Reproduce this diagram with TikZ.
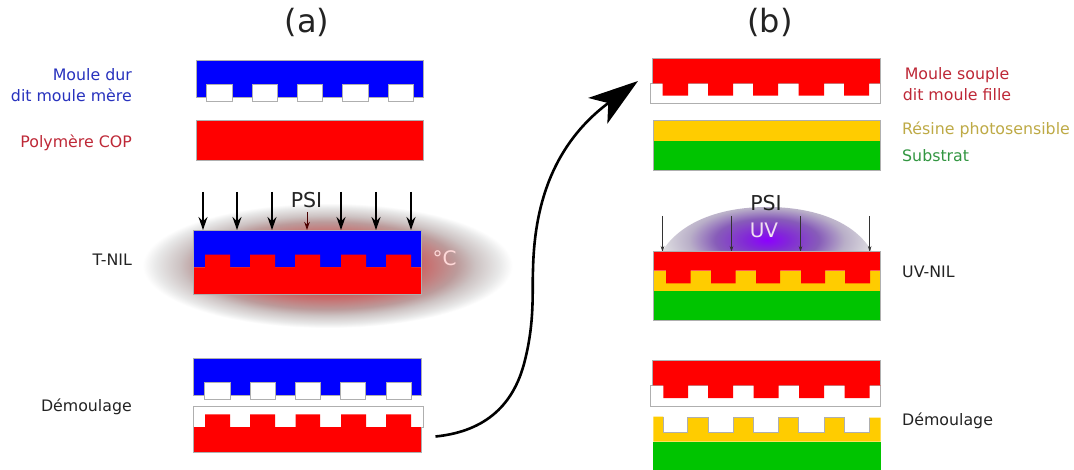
\documentclass[tikz,border=0pt]{standalone}
\usepackage{fontspec}
\setmainfont{DejaVu Sans}
\usetikzlibrary{arrows.meta,calc}
\definecolor{cblue}{RGB}{0,0,255}
\definecolor{cred}{RGB}{255,0,0}
\definecolor{cyel}{RGB}{255,204,0}
\definecolor{cgrn}{RGB}{0,196,0}
\definecolor{edgegray}{RGB}{175,175,175}
\definecolor{tblue}{RGB}{40,50,190}
\definecolor{tred}{RGB}{190,40,55}
\definecolor{tolive}{RGB}{190,170,70}
\definecolor{tgreen}{RGB}{50,150,65}
\definecolor{tdark}{RGB}{35,35,35}
\definecolor{ha}{RGB}{215,40,40}
\definecolor{hb}{RGB}{212,60,60}
\definecolor{hc}{RGB}{200,108,108}
\definecolor{hd}{RGB}{188,155,155}
\definecolor{he}{RGB}{205,195,195}
\definecolor{hf}{RGB}{232,232,232}
\definecolor{ua}{RGB}{140,0,255}
\definecolor{ub}{RGB}{130,40,215}
\definecolor{uc}{RGB}{135,92,185}
\definecolor{ud}{RGB}{185,175,200}
\definecolor{ue}{RGB}{225,225,227}
\pgfdeclareradialshading{heatglow}{\pgfpointorigin}{%
 color(0bp)=(ha);
 color(7.5bp)=(hb);
 color(13bp)=(hc);
 color(17.5bp)=(hd);
 color(20bp)=(he);
 color(23.2bp)=(hf);
 color(25bp)=(white);
 color(50bp)=(white)}
\pgfdeclareradialshading{uvglow}{\pgfpointorigin}{%
 color(0bp)=(ua);
 color(5bp)=(ub);
 color(12bp)=(uc);
 color(18bp)=(ud);
 color(25bp)=(ue);
 color(50bp)=(ue)}
\tikzset{
 part/.style={line width=.5pt,draw=edgegray},
 hollow/.style={part,fill=white},
 press/.style={-{Stealth[length=13pt,width=9pt]},line width=1.4pt,draw=black},
 pressmini/.style={-{Stealth[length=8pt,width=5.5pt]},line width=.9pt,draw=black!70!red},
 pressuv/.style={-{Stealth[length=6pt,width=3.5pt]},line width=.6pt,draw=black!80},
 lab/.style={inner sep=0pt,font=\fontsize{15.8}{20.5}\selectfont,align=center},
 labr/.style={lab,anchor=east,align=right},
 labl/.style={lab,anchor=west,align=left},
 bigtitle/.style={inner sep=0pt,font=\fontsize{32}{38}\selectfont,text=tdark},
 psi/.style={inner sep=0pt,font=\fontsize{20.5}{24}\selectfont,text=tdark}
}
\begin{document}
\begin{tikzpicture}[x=1pt,y=-1pt]
\useasboundingbox (0,0) rectangle (1074,470);
\fill[white] (0,0) rectangle (1074,470);

% titles
\node[bigtitle] (ta) at (307,22) {(a)};
\node[bigtitle] (tb) at (770,22) {(b)};

% ---- panel (a) row 1: hard mould
\draw[part,fill=cblue] (196,60) rectangle (423,97);
\foreach \x/\y in {206.5/232,252/277.5,297/322.5,342.5/368,388/413}
  \draw[hollow] (\x,84) rectangle (\y,101);
\node[labr,text=tblue] (la1) at (132,85) {Moule dur\\dit moule mère};

% polymer
\draw[part,fill=cred] (196,120.5) rectangle (423,160);
\node[labr,text=tred] (la2) at (132,143) {Polymère COP};

% ---- T-NIL
\shade[shading=heatglow] (327.5,265.5) ellipse [x radius=185,y radius=62.5];
\fill[cblue] (193.5,230) rectangle (421,267.3);
\fill[cred] (193.5,294.7) -- (193.5,267.3) -- (205,267.3) -- (205,254.7) -- (230,254.7) -- (230,267.3)
  -- (250,267.3) -- (250,254.7) -- (275,254.7) -- (275,267.3)
  -- (295,267.3) -- (295,254.7) -- (320,254.7) -- (320,267.3)
  -- (341,267.3) -- (341,254.7) -- (366,254.7) -- (366,267.3)
  -- (386,267.3) -- (386,254.7) -- (411,254.7) -- (411,267.3)
  -- (421,267.3) -- (421,294.7) -- cycle;
\draw[part] (193.5,230) rectangle (421,294.7);
\foreach \n/\x in {1/203,2/237,3/272,5/341,6/376,7/411}{
  \coordinate (pa\n) at (\x,192);
  \coordinate (pb\n) at (\x,230);
  \draw[press] (pa\n) -- (pb\n);
}
\coordinate (pa4) at (307,212);
\coordinate (pb4) at (307,230);
\draw[pressmini] (pa4) -- (pb4);
\node[psi] (psia) at (306.5,200.5) {PSI};
\node[inner sep=0pt,font=\fontsize{20}{24}\selectfont,text=white!85!red] (deg) at (444.5,258) {°C};
\node[labr,text=tdark] (la3) at (132,260) {T-NIL};

% ---- démoulage (a)
\draw[part,fill=cblue] (193.3,358.3) rectangle (421,395);
\foreach \x/\y in {204.3/230,250/275,295/320,340.5/365.5,386/411}
  \draw[hollow] (\x,382) rectangle (\y,399.5);
\draw[hollow] (193.3,406) rectangle (423.7,427.7);
\fill[cred] (193.3,452) -- (193.3,427) -- (205,427) -- (205,414.3) -- (230,414.3) -- (230,427)
  -- (250,427) -- (250,414.3) -- (275,414.3) -- (275,427)
  -- (295.5,427) -- (295.5,414.3) -- (320,414.3) -- (320,427)
  -- (341,427) -- (341,414.3) -- (366,414.3) -- (366,427)
  -- (386,427) -- (386,414.3) -- (411,414.3) -- (411,427)
  -- (421,427) -- (421,452) -- cycle;
\draw[part] (193.3,427) -- (193.3,452) -- (421,452) -- (421,427);
\node[labr,text=tdark] (la4) at (132,406.5) {Démoulage};

% ---- big arrow
\coordinate (cs) at (435.5,436.5);
\coordinate (ce) at (638,81);
\draw[line width=2.6pt,-{Stealth[length=50pt,width=32pt,inset=13pt]}]
  (cs) .. controls (480,432) and (513,410) .. (525,360)
  .. controls (535,320) and (532,290) .. (533,270)
  .. controls (534,220) and (545,150) .. (ce);

% ---- panel (b) row 1
\draw[hollow] (650,83.3) rectangle (880,103.3);
\fill[cred] (652.7,58.3) -- (880,58.3) -- (880,83.3) -- (869,83.3) -- (869,95.7) -- (844,95.7) -- (844,83.3)
  -- (824,83.3) -- (824,95.7) -- (798.5,95.7) -- (798.5,83.3)
  -- (778,83.3) -- (778,95.7) -- (753,95.7) -- (753,83.3)
  -- (733,83.3) -- (733,95.7) -- (708,95.7) -- (708,83.3)
  -- (688,83.3) -- (688,95.7) -- (662.7,95.7) -- (662.7,83.3)
  -- (652.7,83.3) -- cycle;
\draw[part] (652.7,83.3) -- (652.7,58.3) -- (880,58.3) -- (880,83.3);
\node[lab,text=tred] (lb1) at (957,84) {Moule souple\\dit moule fille};

% resin + substrate
\fill[cyel] (653.3,120) rectangle (880.5,141);
\fill[cgrn] (653.3,141) rectangle (880.5,170);
\draw[part] (653.3,120) rectangle (880.5,170);
\node[labl,text=tolive] (lb2) at (902,130) {Résine photosensible};
\node[labl,text=tgreen] (lb3) at (902,156) {Substrat};

% ---- UV-NIL
\begin{scope}
\clip (662,251.7) .. controls (680,222) and (720,207) .. (767,207) .. controls (815,207) and (855,222) .. (872,251.7) -- cycle;
\shade[shading=uvglow] (767,240) ellipse [x radius=108,y radius=45];
\end{scope}
\foreach \n/\x in {1/662.5,2/731.5,3/800.5,4/869.7}{
  \coordinate (qa\n) at (\x,216);
  \coordinate (qb\n) at (\x,252);
  \draw[pressuv] (qa\n) -- (qb\n);
}
\node[psi] (psib) at (766,203) {PSI};
\node[inner sep=0pt,font=\fontsize{20}{24}\selectfont,text=white!88!violet] (uv) at (764,230) {UV};

\fill[cgrn] (653.3,290.7) rectangle (880.5,320);
\fill[cyel] (653.3,270.7) rectangle (880.5,290.7);
\fill[cred] (653.3,251.7) -- (880.5,251.7) -- (880.5,270.7) -- (870,270.7) -- (870,283.3) -- (845,283.3) -- (845,270.7)
  -- (825,270.7) -- (825,283.3) -- (801,283.3) -- (801,270.7)
  -- (780,270.7) -- (780,283.3) -- (756,283.3) -- (756,270.7)
  -- (735.5,270.7) -- (735.5,283.3) -- (711,283.3) -- (711,270.7)
  -- (690.7,270.7) -- (690.7,283.3) -- (666,283.3) -- (666,270.7)
  -- (653.3,270.7) -- cycle;
\draw[part] (653.3,251.7) rectangle (880.5,320);
\node[labl,text=tdark] (lb4) at (902,272) {UV-NIL};

% ---- démoulage (b)
\draw[hollow] (650,385.3) rectangle (880.5,406);
\fill[cred] (652.7,360.7) -- (880.5,360.7) -- (880.5,385.3) -- (869.7,385.3) -- (869.7,398) -- (844.5,398) -- (844.5,385.3)
  -- (824,385.3) -- (824,398) -- (799,398) -- (799,385.3)
  -- (778.7,385.3) -- (778.7,398) -- (753.5,398) -- (753.5,385.3)
  -- (733,385.3) -- (733,398) -- (708,398) -- (708,385.3)
  -- (688,385.3) -- (688,398) -- (663.3,398) -- (663.3,385.3)
  -- (652.7,385.3) -- cycle;
\draw[part] (652.7,385.3) -- (652.7,360.7) -- (880.5,360.7) -- (880.5,385.3);
\fill[cgrn] (653.3,441.7) rectangle (880.5,470);
\fill[cyel] (653.3,441.7) -- (653.3,416.7) -- (663,416.7) -- (663,432.7) -- (687.5,432.7) -- (687.5,417.5)
  -- (708,417.5) -- (708,432.7) -- (733.5,432.7) -- (733.5,417.5)
  -- (753.5,417.5) -- (753.5,432.7) -- (778,432.7) -- (778,417.5)
  -- (798.5,417.5) -- (798.5,432.7) -- (824,432.7) -- (824,417.5)
  -- (844,417.5) -- (844,432.7) -- (869,432.7) -- (869,417.5)
  -- (880.5,417.5) -- (880.5,441.7) -- cycle;
\draw[part] (663,416.7) -- (663,432.7) -- (687.5,432.7) -- (687.5,417.5) -- (708,417.5) -- (708,432.7) -- (733.5,432.7) -- (733.5,417.5)
  -- (753.5,417.5) -- (753.5,432.7) -- (778,432.7) -- (778,417.5)
  -- (798.5,417.5) -- (798.5,432.7) -- (824,432.7) -- (824,417.5)
  -- (844,417.5) -- (844,432.7) -- (869,432.7) -- (869,417.5);
\node[labl,text=tdark] (lb5) at (902,421) {Démoulage};
\end{tikzpicture}
\end{document}
